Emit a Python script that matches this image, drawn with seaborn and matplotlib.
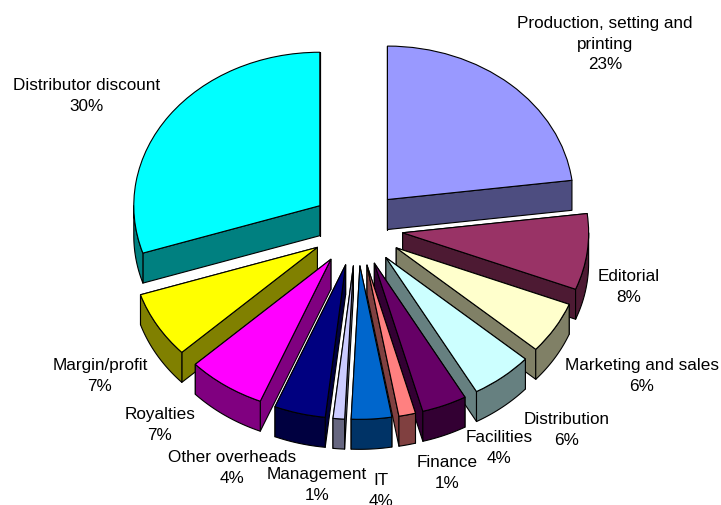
import numpy as np
import matplotlib
matplotlib.use("Agg")
import matplotlib.pyplot as plt
from matplotlib.patches import Polygon
import seaborn as sns

categories = ["Production, setting and\nprinting", "Editorial", "Marketing and sales", "Distribution",
              "Facilities", "Finance", "IT", "Management", "Other overheads", "Royalties",
              "Margin/profit", "Distributor discount"]
values = [23, 8, 5.5, 5.4, 3.9, 1.45, 3.5, 1.0, 4.45, 6.8, 7.0, 30]
percent_labels = ["23%", "8%", "6%", "6%", "4%", "1%", "4%", "1%", "4%", "7%", "7%", "30%"]
colors = ["#9999FF", "#993366", "#FFFFCC", "#CCFFFF", "#660066", "#FF8080",
          "#0066CC", "#CCCCFF", "#000080", "#FF00FF", "#FFFF00", "#00FFFF"]
label_centers = [(605, 44), (629, 287), (642, 376), (567, 430), (499, 448), (447, 473),
                 (381, 491), (317, 485), (232, 468), (160, 425), (100, 376), (87, 96)]

W, H = 721, 506
SQUASH = 0.825
RADIUS = 186
EXPLODE = 46
DEPTH = 30 / SQUASH
CX, CY = 357, (H - 229) / SQUASH

sns.set_theme(style="white")
plt.rcParams["font.family"] = ["Liberation Sans", "DejaVu Sans"]
fig = plt.figure(figsize=(W / 100, H / 100), dpi=100)
ax = fig.add_axes([0, 0, 1, 1])

wedges, _ = ax.pie(values, explode=[EXPLODE] * len(values), center=(CX, CY), radius=RADIUS,
                   startangle=90, counterclock=False, colors=colors, frame=False, normalize=True,
                   wedgeprops=dict(edgecolor="black", linewidth=0.8))
ax.set_aspect("auto")
ax.set_xlim(0, W)
ax.set_ylim(0, H / SQUASH)
ax.axis("off")


def side_faces(w, dark, z):
    (xc, yc), r = w.center, w.r
    t1, t2 = w.theta1, w.theta2
    pt = lambda a: (xc + r * np.cos(np.radians(a)), yc + r * np.sin(np.radians(a)))
    down = lambda p: (p[0], p[1] - DEPTH)
    kw = dict(facecolor=dark, edgecolor="black", linewidth=0.8, zorder=z, joinstyle="round")
    # back radial face first, so the front one hides its lines
    for p in sorted((pt(t1), pt(t2)), key=lambda q: -q[1]):
        ax.add_patch(Polygon([(xc, yc), p, down(p), (xc, yc - DEPTH)], **kw))
    for k in (-360, 0, 360):
        lo, hi = max(t1, 180 + k), min(t2, 360 + k)
        if hi > lo:
            arc = [pt(a) for a in np.linspace(lo, hi, 60)]
            ax.add_patch(Polygon(arc + [down(p) for p in arc[::-1]], **kw))


order = sorted(range(len(wedges)), key=lambda i: -wedges[i].center[1])
for rank, i in enumerate(order):
    w = wedges[i]
    rgb = np.array(matplotlib.colors.to_rgb(colors[i])) * 0.5
    side_faces(w, tuple(rgb), 2 * rank + 2)
    w.set_zorder(2 * rank + 3)

for name, pct, (lx, ly) in zip(categories, percent_labels, label_centers):
    ax.text(lx, (H - ly) / SQUASH, f"{name}\n{pct}", ha="center", va="center",
            fontsize=12.3, color="black", linespacing=1.45, zorder=100)

fig.savefig("out.png", dpi=100)
